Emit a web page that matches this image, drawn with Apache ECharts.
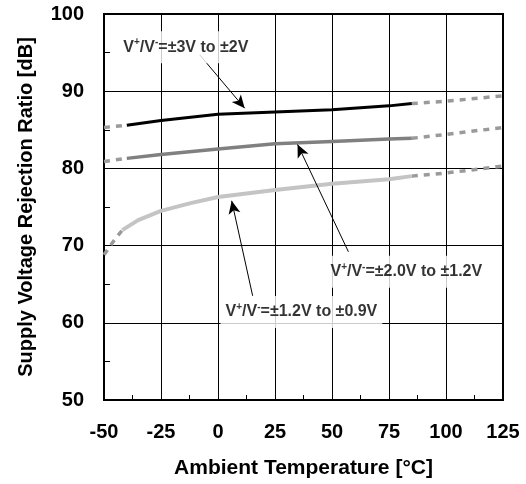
<!DOCTYPE html>
<html>
<head>
<meta charset="utf-8">
<script src="https://cdn.jsdelivr.net/npm/echarts@6/dist/echarts.min.js"></script>
<style>html,body{margin:0;padding:0;background:#fff}#c{width:526px;height:484px}</style>
</head>
<body>
<div id="c"></div>
<script>
// Data
var xTicks = [-50, -25, 0, 25, 50, 75, 100, 125];
var yTicks = [50, 60, 70, 80, 90, 100];

// V+/V- = ±3V to ±2V
var s3to2Solid = [[-40, 85.6], [-25, 86.2], [0, 87.0], [25, 87.3], [50, 87.6], [75, 88.1], [85, 88.4]];
var s3to2DashL = [[-50, 85.3], [-40, 85.6]];
var s3to2DashR = [[85, 88.4], [100, 88.7], [125, 89.4]];

// V+/V- = ±2.0V to ±1.2V
var s2to12Solid = [[-40, 81.3], [-25, 81.8], [0, 82.5], [25, 83.2], [50, 83.5], [75, 83.8], [85, 83.9]];
var s2to12DashL = [[-50, 80.9], [-40, 81.3]];
var s2to12DashR = [[85, 83.9], [100, 84.4], [125, 85.3]];

// V+/V- = ±1.2V to ±0.9V
var s12to09Solid = [[-42, 72.0], [-35, 73.3], [-25, 74.5], [-12, 75.5], [0, 76.3], [25, 77.2], [50, 78.0], [75, 78.6], [85, 79.0]];
var s12to09DashL = [[-50, 68.8], [-46, 70.5], [-42, 72.0]];
var s12to09DashR = [[85, 79.0], [100, 79.4], [125, 80.3]];

// annotation texts and anchor positions (data coords)
var labelTexts = ['V{sup|+}/V{sup|-}=±3V to ±2V', 'V{sup|+}/V{sup|-}=±2.0V to ±1.2V', 'V{sup|+}/V{sup|-}=±1.2V to ±0.9V'];
var labelPos = [[-14.1, 95.7], [82.6, 66.6], [36.6, 61.4]];
var arrows = [
  [[-8, 94.7], [11.7, 87.8]],
  [[57.2, 69.2], [34.9, 83.1]],
  [[15.2, 63.5], [6.0, 75.8]]
];

var FONT = '"Liberation Sans", Arial, sans-serif';
var chart = echarts.init(document.getElementById('c'), null, {renderer: 'canvas'});

function solid(data, color, width) {
  return {type: 'line', data: data, showSymbol: false, symbol: 'none', z: 3,
    lineStyle: {color: color, width: width, type: 'solid', cap: 'butt'}, animation: false};
}
function dashed(data) {
  return {type: 'line', data: data, showSymbol: false, symbol: 'none', z: 2,
    lineStyle: {color: '#9a9a9a', width: 3.5, type: [6, 6], cap: 'butt'}, animation: false};
}

var series = [
  solid(s3to2Solid, '#000000', 3),
  dashed(s3to2DashL), dashed(s3to2DashR),
  solid(s2to12Solid, '#808080', 3.5),
  dashed(s2to12DashL), dashed(s2to12DashR),
  solid(s12to09Solid, '#c4c4c4', 4),
  dashed(s12to09DashL), dashed(s12to09DashR),
  {
    type: 'line', data: [], animation: false, z: 4,
    markLine: {
      silent: true, symbol: ['none', 'arrow'], symbolSize: [9, 13], animation: false,
      label: {show: false},
      lineStyle: {color: '#000', width: 1, type: 'solid'},
      data: arrows.map(function (a) { return [{coord: a[0]}, {coord: a[1]}]; })
    }
  },
  {
    type: 'scatter', animation: false, z: 5, symbolSize: 1, silent: true,
    itemStyle: {color: 'rgba(0,0,0,0)'},
    data: labelPos.map(function (p, i) {
      return {value: p, label: {formatter: labelTexts[i]}};
    }),
    label: {
      show: true, position: 'inside', color: '#000',
      fontFamily: FONT, fontWeight: 'bold', fontSize: 16,
      backgroundColor: '#fff', padding: [6, 5],
      rich: {
        sup: {fontSize: 10, fontWeight: 'bold', fontFamily: FONT, verticalAlign: 'top', lineHeight: 20, color: '#000'}
      }
    }
  }
];

chart.setOption({
  animation: false,
  backgroundColor: '#fff',
  grid: {left: 104, right: 23, top: 14, bottom: 82, show: true, borderColor: '#000', borderWidth: 2},
  xAxis: {
    type: 'value', min: xTicks[0], max: xTicks[xTicks.length - 1], interval: 25,
    name: 'Ambient Temperature [°C]', nameLocation: 'middle', nameGap: 58,
    nameTextStyle: {fontFamily: FONT, fontWeight: 'bold', fontSize: 21, color: '#000'},
    axisLine: {show: true, onZero: false, lineStyle: {color: '#000', width: 2}},
    axisTick: {show: true, inside: true, length: 5, lineStyle: {color: '#000'}},
    minorTick: {show: true, splitNumber: 2, length: 5, lineStyle: {color: '#000'}},
    splitLine: {show: true, lineStyle: {color: '#000', width: 1}},
    axisLabel: {margin: 22, fontFamily: FONT, fontWeight: 'bold', fontSize: 20, color: '#000'}
  },
  yAxis: {
    type: 'value', min: yTicks[0], max: yTicks[yTicks.length - 1], interval: 10,
    name: 'Supply Voltage Rejection Ratio [dB]', nameLocation: 'middle', nameGap: 68,
    nameTextStyle: {fontFamily: FONT, fontWeight: 'bold', fontSize: 20, color: '#000'},
    axisLine: {show: true, onZero: false, lineStyle: {color: '#000', width: 2}},
    axisTick: {show: true, inside: true, length: 6, lineStyle: {color: '#000'}},
    minorTick: {show: true, splitNumber: 2, length: 6, lineStyle: {color: '#000'}},
    splitLine: {show: true, lineStyle: {color: '#000', width: 1}},
    axisLabel: {margin: 20, fontFamily: FONT, fontWeight: 'bold', fontSize: 20, color: '#000'}
  },
  series: series
});
</script>
</body>
</html>
